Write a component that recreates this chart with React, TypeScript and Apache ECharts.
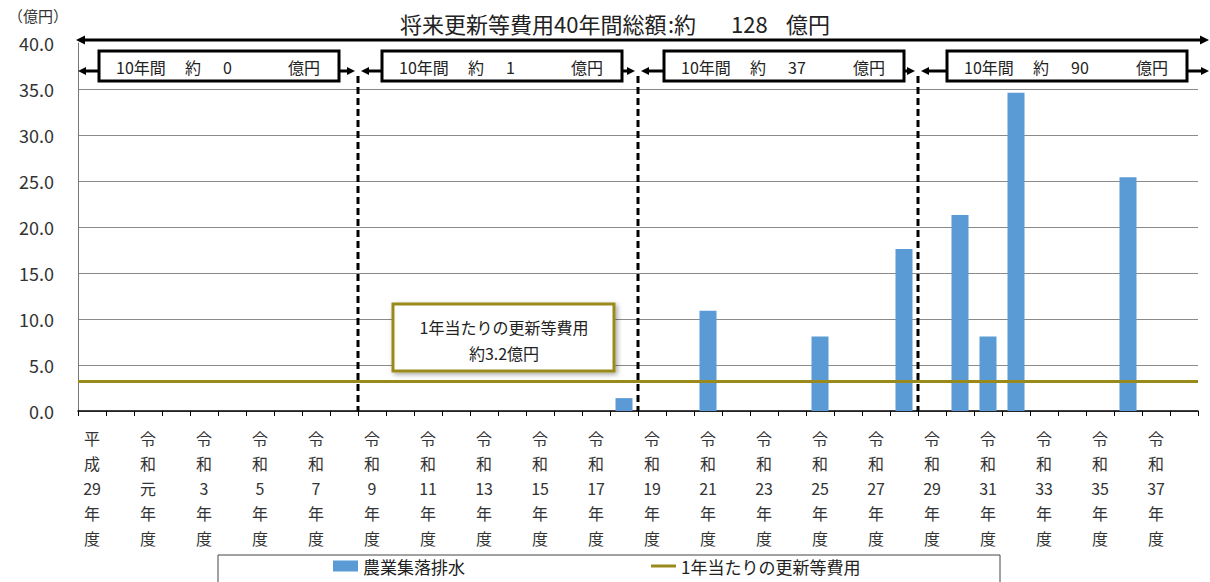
import React, { useEffect, useRef } from "react";
import * as echarts from "echarts";

const categories = [
  "平成29年度", "平成30年度", "令和元年度", "令和2年度", "令和3年度", "令和4年度", "令和5年度", "令和6年度",
  "令和7年度", "令和8年度", "令和9年度", "令和10年度", "令和11年度", "令和12年度", "令和13年度", "令和14年度",
  "令和15年度", "令和16年度", "令和17年度", "令和18年度", "令和19年度", "令和20年度", "令和21年度", "令和22年度",
  "令和23年度", "令和24年度", "令和25年度", "令和26年度", "令和27年度", "令和28年度", "令和29年度", "令和30年度",
  "令和31年度", "令和32年度", "令和33年度", "令和34年度", "令和35年度", "令和36年度", "令和37年度", "令和38年度",
];

const costValues = [
  null, null, null, null, null, null, null, null, null, null,
  null, null, null, null, null, null, null, null, null, 1.4,
  null, null, 10.9, null, null, null, 8.1, null, null, 17.6,
  null, 21.3, 8.1, 34.6, null, null, null, 25.4, null, null,
];

const annualAverage = 3.2;
const decadeTotals = ["0", "1", "37", "90"];
const totalLabel = "128";
const yTicks = [0, 5, 10, 15, 20, 25, 30, 35, 40];

const BAR_NAME = "農業集落排水";
const LINE_NAME = "1年当たりの更新等費用";
const BLUE = "#5B9BD5";
const OLIVE = "#9A8A1C";
const FONT = "'Noto Sans CJK JP', 'Noto Sans', sans-serif";

const GL = 78, GR = 1198, GT = 43, GB = 411;
const CW = (GR - GL) / categories.length;

function verticalLabel(v: string) {
  const m = v.match(/^(..)(.+)年度$/);
  if (!m) return v;
  return [m[1][0], m[1][1], m[2], "年", "度"].join("\n");
}

function arrowHead(tipX: number, y: number, dir: number, len = 9, half = 4.5) {
  return {
    type: "polygon",
    shape: { points: [[tipX, y], [tipX - dir * len, y - half], [tipX - dir * len, y + half]] },
    style: { fill: "#000" },
    z: 10,
  };
}

function hLine(x1: number, x2: number, y: number, w = 3) {
  return {
    type: "line",
    shape: { x1, y1: y, x2, y2: y },
    style: { stroke: "#000", lineWidth: w },
    z: 10,
  };
}

function txt(x: number, y: number, text: string, size: number, align = "left", extra: any = {}) {
  return {
    type: "text",
    x,
    y,
    style: {
      text,
      fontSize: size,
      fontFamily: FONT,
      fill: "#222",
      align,
      verticalAlign: "middle",
      ...extra,
    },
    z: 12,
  };
}

function buildGraphics() {
  const g: any[] = [];
  // unit label
  g.push(txt(8, 15, "（億円）", 15, "left", { fill: "#333" }));
  // total title
  g.push(txt(400, 23, "将来更新等費用40年間総額", 22));
  g.push(txt(668, 23, ":約", 22));
  g.push(txt(731, 23, totalLabel, 22));
  g.push(txt(786, 23, "億円", 22));
  // top total arrow
  g.push(hLine(GL + 6, 1201, 40));
  g.push(arrowHead(GL - 2, 40, -1));
  g.push(arrowHead(1209, 40, 1));

  const boxLefts = [99, 382, 664, 947];
  const boxW = 240;
  const arrowY = 71;
  for (let k = 0; k < 4; k++) {
    const xs = GL + k * 10 * CW;
    const xe = k === 3 ? 1209 : GL + (k + 1) * 10 * CW;
    const bl = boxLefts[k];
    const br = bl + boxW;
    const lt = k === 0 ? xs : xs + 3;
    const rt = k === 3 ? xe : xe - 3;
    g.push(hLine(lt + 6, bl, arrowY));
    g.push(arrowHead(lt, arrowY, -1, 8, 4));
    g.push(hLine(br, rt - 6, arrowY));
    g.push(arrowHead(rt, arrowY, 1, 8, 4));
    g.push({
      type: "rect",
      shape: { x: bl, y: 51, width: boxW, height: 30 },
      style: { fill: "#fff", stroke: "#000", lineWidth: 3 },
      z: 11,
    });
    g.push(txt(bl + 17, 67, "10年間", 16));
    g.push(txt(bl + 86, 67, "約", 16));
    g.push(txt(bl + 124, 67, decadeTotals[k], 16));
    g.push(txt(bl + 189, 67, "億円", 16));
    if (k > 0) {
      g.push({
        type: "line",
        shape: { x1: xs, y1: 76, x2: xs, y2: GB },
        style: { stroke: "#000", lineWidth: 3, lineDash: [7, 4] },
        z: 9,
      });
    }
  }

  // annual average annotation box
  g.push({
    type: "rect",
    shape: { x: 393, y: 304, width: 221, height: 67 },
    style: {
      fill: "#fff",
      stroke: OLIVE,
      lineWidth: 3,
      shadowBlur: 5,
      shadowOffsetX: 2,
      shadowOffsetY: 2,
      shadowColor: "rgba(0,0,0,0.35)",
    },
    z: 11,
  });
  g.push(txt(504, 327, "1年当たりの更新等費用", 16, "center"));
  g.push(txt(504, 353, `約${annualAverage}億円`, 16, "center"));

  // legend border
  g.push({
    type: "rect",
    shape: { x: 218, y: 555, width: 782, height: 40 },
    style: { fill: "none", stroke: "#444", lineWidth: 1 },
    z: 1,
  });
  return g;
}

export default function App() {
  const ref = useRef<HTMLDivElement>(null);
  useEffect(() => {
    if (!ref.current) return;
    const chart = echarts.init(ref.current, undefined, { renderer: "svg" });
    const splitColors = yTicks.map((t, i) => (i === yTicks.length - 1 ? "rgba(0,0,0,0)" : "#8a8a8a"));
    chart.setOption({
      animation: false,
      textStyle: { fontFamily: FONT },
      grid: { left: GL, right: 1210 - GR, top: GT, bottom: 582 - GB, containLabel: false },
      legend: {
        left: 333,
        top: 555,
        padding: 0,
        itemWidth: 25,
        itemHeight: 11,
        itemGap: 186,
        textStyle: { fontSize: 17, color: "#222", fontFamily: FONT, lineHeight: 22 },
        data: [
          { name: BAR_NAME, icon: "rect" },
          { name: LINE_NAME, icon: "path://M0,0 L25,0 L25,3 L0,3 Z" },
        ],
      },
      xAxis: {
        type: "category",
        data: categories,
        boundaryGap: true,
        axisLine: { lineStyle: { color: "#000", width: 1.5 } },
        axisTick: { show: true, interval: 0, length: 5, lineStyle: { color: "#000" } },
        axisLabel: {
          interval: 1,
          formatter: verticalLabel,
          fontSize: 16,
          lineHeight: 25,
          color: "#333",
          margin: 14,
          fontFamily: FONT,
        },
      },
      yAxis: {
        type: "value",
        min: 0,
        max: 40,
        interval: 5,
        axisLine: { show: true, lineStyle: { color: "#777", width: 1 } },
        axisTick: { show: false },
        axisLabel: {
          formatter: (v: number) => v.toFixed(1),
          fontSize: 18,
          color: "#333",
          margin: 24,
          fontFamily: FONT,
        },
        splitLine: { lineStyle: { color: splitColors, width: 1 } },
      },
      series: [
        {
          name: BAR_NAME,
          type: "bar",
          data: costValues,
          barWidth: 17,
          itemStyle: { color: BLUE },
          z: 2,
        },
        {
          name: LINE_NAME,
          type: "line",
          data: [],
          symbol: "none",
          lineStyle: { color: OLIVE, width: 3 },
          itemStyle: { color: OLIVE },
          z: 3,
          markLine: {
            silent: true,
            symbol: ["none", "none"],
            label: { show: false },
            lineStyle: { color: OLIVE, width: 3, type: "solid" },
            data: [{ yAxis: annualAverage }],
          },
        },
      ],
      graphic: buildGraphics(),
    });
    return () => chart.dispose();
  }, []);
  return (
    <div
      ref={ref}
      style={{ position: "fixed", left: 0, top: 0, width: 1210, height: 582, background: "#fff" }}
    />
  );
}
